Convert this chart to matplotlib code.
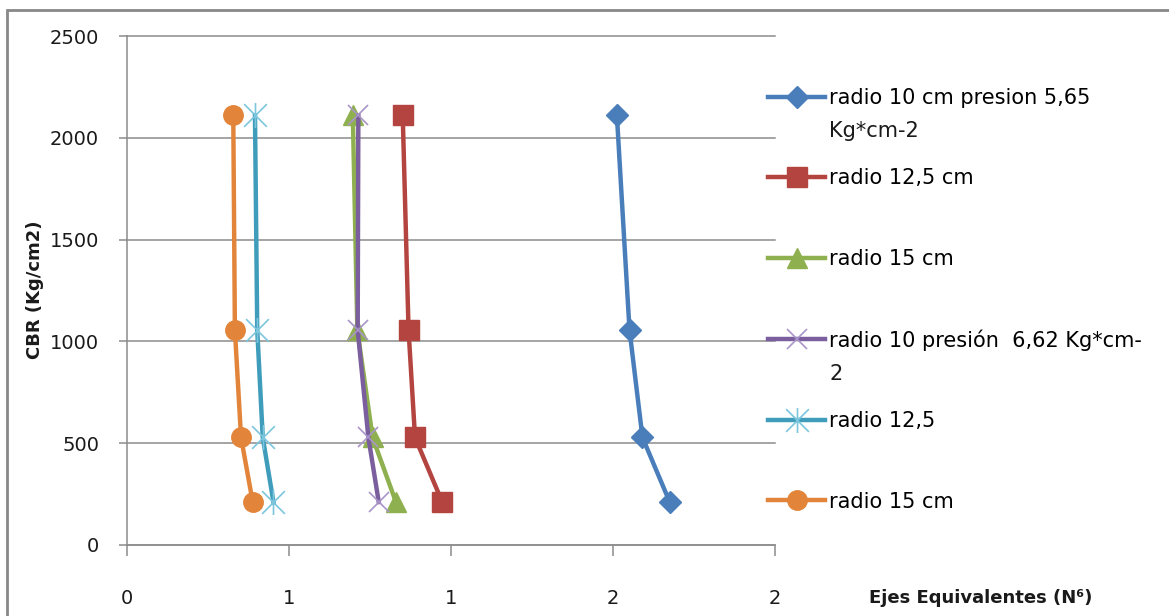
import matplotlib
matplotlib.use("Agg")
import matplotlib.pyplot as plt
from matplotlib.path import Path
from matplotlib.patches import Rectangle

# CBR values (Kg/cm2) shared by every series
cbr = [2110, 1055, 528, 211]

# Equivalent axles for each wheel radius / pressure case
ejes_r10_p565 = [1.512, 1.551, 1.591, 1.675]
ejes_r125_p565 = [0.851, 0.869, 0.889, 0.973]
ejes_r15_p565 = [0.697, 0.711, 0.758, 0.830]
ejes_r10_p662 = [0.714, 0.712, 0.745, 0.777]
ejes_r125_p662 = [0.395, 0.402, 0.419, 0.452]
ejes_r15_p662 = [0.328, 0.333, 0.352, 0.388]

labels = [
    "radio 10 cm presion 5,65",
    "radio 12,5 cm",
    "radio 15 cm",
    "radio 10 presión  6,62 Kg*cm-",
    "radio 12,5",
    "radio 15 cm",
]
label_cont = {0: "Kg*cm-2", 3: "2"}

x_ticks = [0, 0.5, 1.0, 1.5, 2.0]
x_tick_labels = ["0", "1", "1", "2", "2"]
y_ticks = [0, 500, 1000, 1500, 2000, 2500]

plt.rcParams["font.family"] = "DejaVu Sans"

# asterisk-like marker: an X with a vertical stroke
star = Path([(-1, -1), (1, 1), (-1, 1), (1, -1), (0, -1.1), (0, 1.1)],
            [Path.MOVETO, Path.LINETO, Path.MOVETO, Path.LINETO, Path.MOVETO, Path.LINETO])

fig = plt.figure(figsize=(11.69, 6.16), dpi=100)
ax = fig.add_axes([127 / 1169, 1 - 545 / 616, (775 - 127) / 1169, (545 - 36) / 616])

lw = 3.2
ax.plot(ejes_r10_p565, cbr, color="#4A7EBB", lw=lw, marker="D", ms=11,
        label=labels[0], zorder=3)
ax.plot(ejes_r125_p565, cbr, color="#B4443F", lw=lw, marker="s", ms=14,
        label=labels[1], zorder=4)
ax.plot(ejes_r15_p565, cbr, color="#8FB04F", lw=lw, marker="^", ms=14,
        label=labels[2], zorder=5)
ax.plot(ejes_r10_p662, cbr, color="#7A5E9E", lw=lw, marker="x", ms=14,
        mec="#A995C9", mew=1.2, label=labels[3], zorder=6)
ax.plot(ejes_r125_p662, cbr, color="#3F9DBB", lw=lw, marker=star, ms=18,
        mec="#7CC6DD", mew=1.2, mfc="none", label=labels[4], zorder=7)
ax.plot(ejes_r15_p662, cbr, color="#E2853A", lw=lw, marker="o", ms=14,
        label=labels[5], zorder=8)

ax.set_xlim(0, 2)
ax.set_ylim(0, 2500)
ax.set_xticks(x_ticks)
ax.set_xticklabels(x_tick_labels)
ax.set_yticks(y_ticks)

grid_c = "#8C8C8C"
ax.yaxis.grid(True, color=grid_c, lw=1.1)
ax.set_axisbelow(True)
for gl in ax.get_ygridlines():
    gl.set_clip_on(False)

for side in ("top", "right"):
    ax.spines[side].set_visible(False)
for side in ("left", "bottom"):
    ax.spines[side].set_color(grid_c)
    ax.spines[side].set_linewidth(1.1)

ax.tick_params(axis="y", length=6, width=1.1, color=grid_c, pad=14,
               labelsize=14, labelcolor="#1a1a1a")
ax.tick_params(axis="x", length=8, width=1.1, color=grid_c, pad=24,
               labelsize=14, labelcolor="#1a1a1a")

fig.text(35 / 1169, 1 - 290 / 616, "CBR (Kg/cm2)", rotation=90, fontsize=13,
         fontweight="bold", ha="center", va="center", color="#1a1a1a")
fig.text(981 / 1169, 1 - 598 / 616, "Ejes Equivalentes (N⁶)", fontsize=13,
         fontweight="bold", ha="center", va="center", color="#1a1a1a")

leg = fig.legend(loc="upper left", bbox_to_anchor=(768 / 1169, 1 - 88 / 616),
                 frameon=False, fontsize=15, handlelength=2.75, handletextpad=0.2,
                 labelspacing=2.9, borderpad=0, borderaxespad=0)

# second lines of the wrapped legend labels
fig.canvas.draw()
inv = fig.transFigure.inverted()
texts = leg.get_texts()
for i, cont in label_cont.items():
    bb = texts[i].get_window_extent()
    x0, y0 = inv.transform((bb.x0, bb.y0 - 33))
    fig.text(x0, y0, cont, fontsize=15, ha="left", va="bottom", color="#1a1a1a")

# outer chart frame (right and bottom edges fall outside the canvas)
fig.add_artist(Rectangle((7 / 1169, -0.5), 2.0, 1.5 - 10 / 616,
                         transform=fig.transFigure, fill=False,
                         edgecolor="#888888", lw=2, clip_on=False))

fig.savefig("out.png", dpi=100)
